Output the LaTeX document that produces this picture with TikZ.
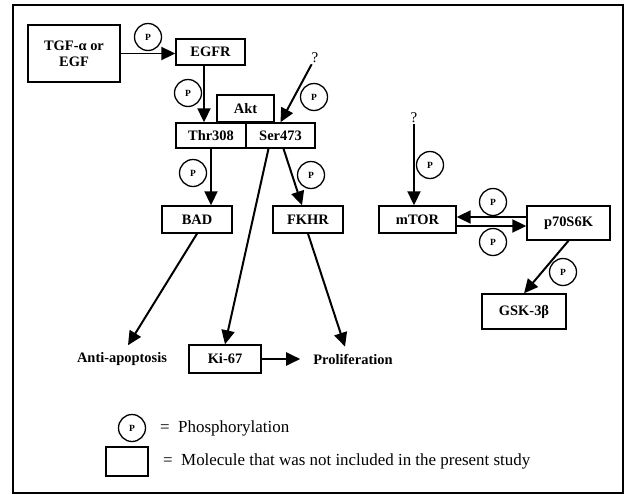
\documentclass[tikz,border=0pt]{standalone}
\usepackage{fontspec}
\setmainfont{Liberation Serif}
\usetikzlibrary{arrows.meta}

\tikzset{
  mol/.style={draw,line width=1.4pt,inner sep=0pt,font=\fontsize{14.5}{16}\selectfont\bfseries},
  phos/.style={draw,circle,line width=1.3pt,minimum size=27bp,inner sep=0pt,font=\fontsize{9.5}{9.5}\selectfont\bfseries},
  txt/.style={inner sep=0pt,font=\fontsize{14.5}{16}\selectfont\bfseries},
  qmark/.style={inner sep=1pt,font=\fontsize{15}{16}\selectfont},
  legtxt/.style={inner sep=0pt,anchor=west,font=\fontsize{17}{19}\selectfont},
  arr/.style={-{Triangle[length=14bp,width=13bp]},line width=2pt},
}

\begin{document}
\begin{tikzpicture}

\useasboundingbox (0bp,0bp) rectangle (625bp,-495bp);
\draw[line width=1.8pt] (13bp,-5bp) rectangle (623bp,-493bp);

% molecules
\node (TGF) at (74bp,-53.5bp)[mol,minimum width=92bp,minimum height=57bp,align=center] {TGF-α or\\EGF};
\node (EGFR) at (210.5bp,-52bp)[mol,minimum width=69bp,minimum height=26bp] {EGFR};
\node (Akt) at (245.5bp,-108.5bp)[mol,minimum width=57bp,minimum height=27bp] {Akt};
\node (Thr) at (211bp,-135.5bp)[mol,minimum width=70bp,minimum height=25bp] {Thr308};
\node (Ser) at (280.5bp,-135.5bp)[mol,minimum width=69bp,minimum height=25bp] {Ser473};
\node (BAD) at (197bp,-219.5bp)[mol,minimum width=70bp,minimum height=27bp] {BAD};
\node (FKHR) at (308bp,-219.5bp)[mol,minimum width=70bp,minimum height=27bp] {FKHR};
\node (mTOR) at (417.5bp,-219.5bp)[mol,minimum width=77bp,minimum height=27bp] {mTOR};
\node (p70) at (568.5bp,-223bp)[mol,minimum width=83bp,minimum height=34bp] {p70S6K};
\node (GSK) at (524bp,-311.5bp)[mol,minimum width=84bp,minimum height=35bp] {GSK-3β};
\node (Ki) at (225bp,-359bp)[mol,minimum width=72bp,minimum height=28bp] {Ki-67};
\node (Anti) at (122bp,-359bp)[txt] {Anti-apoptosis};
\node (Prol) at (353bp,-359bp)[txt] {Proliferation};
\node (Q1) at (315bp,-58bp)[qmark] {?};
\node (Q2) at (414bp,-118bp)[qmark] {?};

% phosphorylation marks
\node (P1) at (148bp,-37bp)[phos] {P};
\node (P2) at (188bp,-93bp)[phos] {P};
\node (P3) at (314bp,-97bp)[phos] {P};
\node (P4) at (193bp,-173bp)[phos] {P};
\node (P5) at (311bp,-175bp)[phos] {P};
\node (P6) at (430bp,-165bp)[phos] {P};
\node (P7) at (493bp,-202bp)[phos] {P};
\node (P8) at (493bp,-242bp)[phos] {P};
\node (P9) at (563bp,-272bp)[phos] {P};

% connectors
\draw [arr] (TGF.east) -- (TGF.east -| EGFR.west);
\draw [arr] ([xshift=-6.5bp]EGFR.south) -- ([xshift=-6.5bp]EGFR.south |- Thr.north);
\draw [arr] (Q1) -- (Ser.north);
\draw [arr] (Thr.south) -- (Thr.south |- BAD.north);
\draw [arr] ([xshift=3bp]Ser.south) -- ([xshift=-6bp]FKHR.north);
\draw [arr] ([xshift=-12bp]Ser.south) -- (Ki.north);
\draw [arr] (BAD.south) -- ([xshift=6bp,yshift=7bp]Anti.north);
\draw [arr] (FKHR.south) -- ([xshift=-8bp,yshift=7bp]Prol.north);
\draw [arr] (Ki.east) -- ([xshift=-13bp]Prol.west);
\draw [arr] (Q2) -- (Q2 |- mTOR.north);
\draw [arr] ([yshift=6bp]p70.west) -- ([yshift=6bp]p70.west -| mTOR.east);
\draw [arr] ([yshift=-6.5bp]mTOR.east) -- ([yshift=-6.5bp]mTOR.east -| p70.west);
\draw [arr] (p70.south) -- (GSK.north);

% legend
\node (LP) at (132bp,-428bp)[phos] {P};
\node (LB) at (127bp,-461.5bp)[mol,line width=1.8pt,minimum width=42bp,minimum height=29bp] {};
\node (LPtxt) at (160bp,-428bp)[legtxt] {=~ Phosphorylation};
\node (LBtxt) at (163bp,-461bp)[legtxt] {=~ Molecule that was not included in the present study};
\end{tikzpicture}
\end{document}
